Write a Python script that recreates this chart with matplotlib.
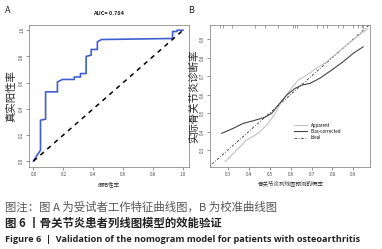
import matplotlib.pyplot as plt
import numpy as np

plt.rcParams['font.family'] = ['Noto Sans CJK SC', 'DejaVu Sans']

# panel A: ROC curve points (false positive rate, true positive rate)
fpr = [0.0, 0.003, 0.047, 0.047, 0.081, 0.081, 0.16, 0.16, 0.194, 0.273, 0.273,
       0.314, 0.314, 0.352, 0.352, 0.386, 0.386, 0.427, 0.427, 0.454, 0.93,
       0.93, 0.96, 0.96, 1.0]
tpr = [0.0, 0.008, 0.084, 0.313, 0.32, 0.529, 0.529, 0.605, 0.624, 0.624, 0.643,
       0.643, 0.669, 0.669, 0.80, 0.81, 0.853, 0.853, 0.911, 0.929, 0.937,
       0.99, 0.99, 1.0, 1.0]
auc_text = 'AUC= 0.784'

# panel B: calibration curves
app_x = [0.286, 0.342, 0.389, 0.445, 0.493, 0.525, 0.557, 0.597, 0.636, 0.677,
         0.724, 0.772, 0.85, 0.92, 0.97]
app_y = [0.237, 0.30, 0.354, 0.39, 0.444, 0.498, 0.561, 0.624, 0.678, 0.705,
         0.742, 0.777, 0.85, 0.915, 0.955]
bc_x = [0.27, 0.325, 0.373, 0.421, 0.477, 0.509, 0.541, 0.581, 0.621, 0.653,
        0.692, 0.74, 0.796, 0.851, 0.90, 0.947]
bc_y = [0.39, 0.417, 0.444, 0.458, 0.477, 0.498, 0.543, 0.597, 0.633, 0.651,
        0.66, 0.688, 0.732, 0.777, 0.823, 0.858]
rug = [0.262, 0.276, 0.319, 0.429, 0.477, 0.539, 0.611, 0.62, 0.63, 0.726,
       0.754, 0.773, 0.826, 0.85, 0.898, 0.922, 0.941, 0.946]

fig = plt.figure(figsize=(3.82, 2.49), dpi=100)

# ---- A ----
ax1 = fig.add_axes([29/382, 82/249, 160/382, 142/249])
ax1.plot(fpr, tpr, color='#3f5fd0', lw=1.2)
ax1.plot([0, 1], [0, 1], color='black', lw=1.1, ls=(0, (3, 3)))
ax1.set_xlim(-0.03, 1.04)
ax1.set_ylim(-0.045, 1.04)
ax1.set_xticks([0, 0.2, 0.4, 0.6, 0.8, 1.0])
ax1.set_xticklabels(['0.0', '0.2', '0.4', '0.6', '0.8', '1.0'])
ax1.set_yticks([0, 0.2, 0.4, 0.6, 0.8, 1.0])
ax1.set_yticklabels(['0.0', '0.2', '0.4', '0.6', '0.8', '1.0'], rotation=90, va='center')
ax1.tick_params(labelsize=3.2, length=2, width=0.4, pad=1.5, colors='#444444')
ax1.set_xlabel('假阳性率', fontsize=4, labelpad=3, color='#333333')
ax1.set_ylabel('真实阳性率', fontsize=7.5, labelpad=2, color='#222222')
ax1.set_title(auc_text, fontsize=4, fontweight='bold', pad=7, color='#222222')
for s in ax1.spines.values():
    s.set_linewidth(0.5)
    s.set_color('#777777')

# ---- B ----
ax2 = fig.add_axes([210/382, 82/249, 160/382, 142/249])
ax2.plot([0.2, 1.0], [0.2, 1.0], color='#333333', lw=0.6, ls=(0, (3, 2, 1, 2)), label='Ideal')
ax2.plot(app_x, app_y, color='#bbbbbb', lw=0.7, label='Apparent')
ax2.plot(bc_x, bc_y, color='#444444', lw=0.8, label='Bias-corrected')
ax2.vlines(rug, 0.961, 0.976, color='#555555', lw=0.4)
ax2.set_xlim(0.214, 0.98)
ax2.set_ylim(0.208, 0.976)
ax2.set_xticks([0.3, 0.4, 0.5, 0.6, 0.7, 0.8, 0.9])
ax2.set_yticks([0.3, 0.4, 0.5, 0.6, 0.7, 0.8, 0.9])
ax2.set_yticklabels(['0.3', '0.4', '0.5', '0.6', '0.7', '0.8', '0.9'], rotation=90, va='center')
ax2.tick_params(labelsize=3.2, length=2, width=0.4, pad=1.5, colors='#444444')
ax2.set_xlabel('骨关节炎列线图预测的概率', fontsize=4, labelpad=3, color='#333333')
ax2.set_ylabel('实际骨关节炎诊断率', fontsize=7.5, labelpad=1, color='#222222')
h, l = ax2.get_legend_handles_labels()
ax2.legend([h[1], h[2], h[0]], [l[1], l[2], l[0]], loc='center left',
           bbox_to_anchor=(0.5, 0.25), fontsize=3.2, frameon=False,
           handlelength=3, labelspacing=0.3, handletextpad=0.8)
for s in ax2.spines.values():
    s.set_linewidth(0.5)
    s.set_color('#777777')

fig.text(5/382, 1 - 10/249, 'A', fontsize=6.5, va='center', color='#222222')
fig.text(188/382, 1 - 10/249, 'B', fontsize=6.5, va='center', color='#222222')

fig.text(5/382, 1 - 207/249, '图注：图 A 为受试者工作特征曲线图，B 为校准曲线图',
         fontsize=8.2, va='center', color='#555555')
fig.text(5/382, 1 - 223/249, '图 6 丨骨关节炎患者列线图模型的效能验证',
         fontsize=8.2, va='center', color='#222222', fontweight='bold')
fig.text(5/382, 1 - 239/249,
         'Figure 6  |  Validation of the nomogram model for patients with osteoarthritis',
         fontsize=6.6, va='center', color='#222222', fontweight='bold', family='Open Sans')

fig.savefig('out.png', dpi=100)
